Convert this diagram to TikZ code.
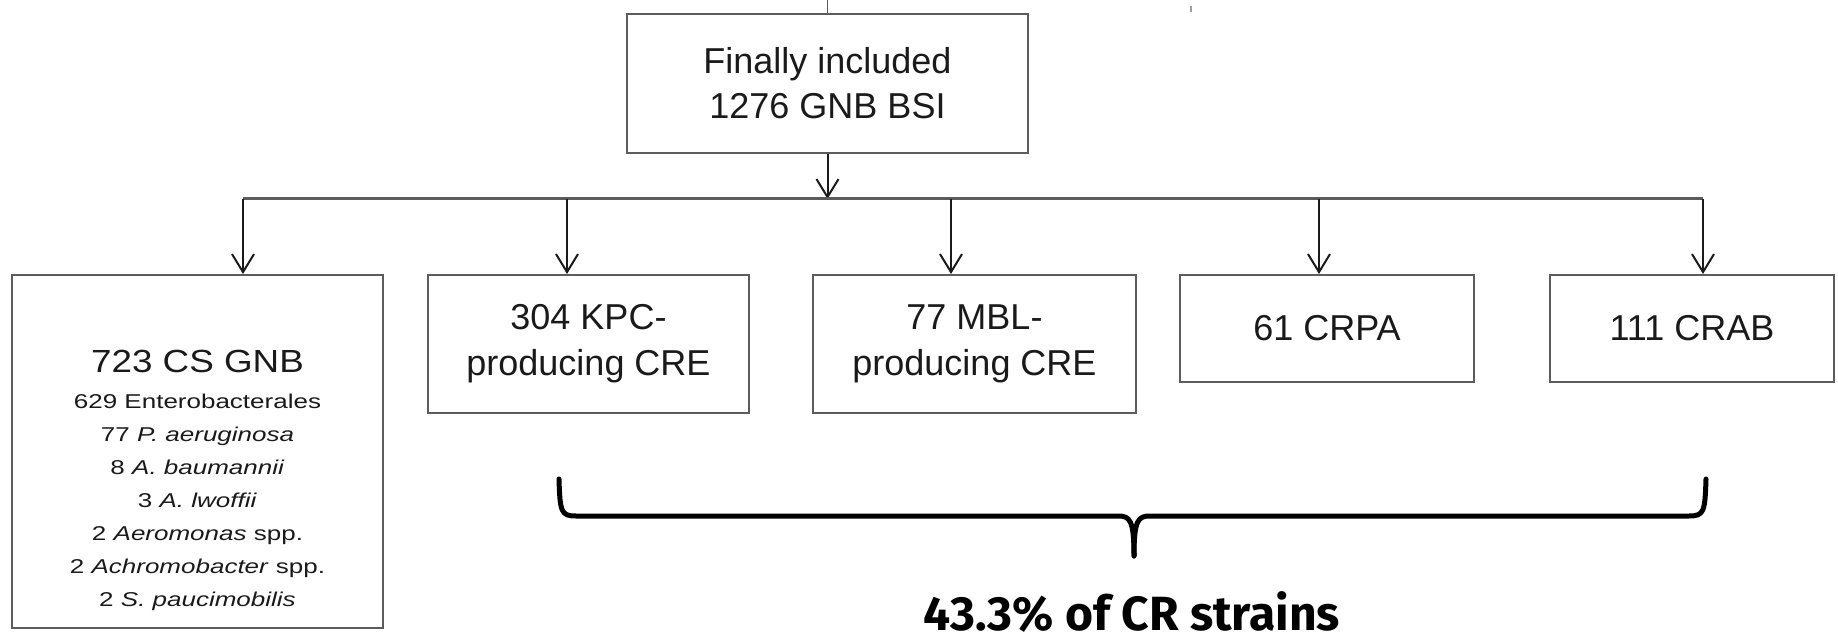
\documentclass[tikz,border=0pt]{standalone}
\usepackage{fontspec}
\setmainfont{Liberation Sans}
\newfontfamily\titlefont{Liberation Sans}[FakeStretch=1.15]
\newfontfamily\listfont{Liberation Sans}[FakeStretch=1.3]
\newfontfamily\bracefont{Fira Sans}
\usetikzlibrary{arrows.meta}
\definecolor{boxgray}{HTML}{5C5C5C}
\definecolor{ink}{HTML}{1A1A1A}
\begin{document}
\begin{tikzpicture}[x=0.5pt,y=-0.5pt,
  box/.style={draw=boxgray, line width=1pt, fill=white, inner sep=0pt, align=center, text=ink, font=\fontsize{18}{23}\selectfont},
  arr/.style={draw=ink, line width=1pt, -{Straight Barb[length=9pt,width=11pt]}},
  bus/.style={draw=boxgray, line width=1.5pt},
  bracepath/.style={draw=black, line width=2.5pt, line cap=round, line join=round},
  plain/.style={inner sep=0pt, text=ink, align=center}]
\useasboundingbox (0,0) rectangle (1838,642);
% boxes
\node[box, minimum width=200.5pt, minimum height=69.5pt, font=\fontsize{18}{22.5}\selectfont] (top) at (827.5,83.5) {Finally included\\1276 GNB BSI};
\node[box, minimum width=185.5pt, minimum height=176.5pt] (cs) at (197.5,451.5) {};
\node[box, minimum width=160.5pt, minimum height=69pt] (kpc) at (588.5,344) {304 KPC-\\producing CRE};
\node[box, minimum width=161.5pt, minimum height=69pt] (mbl) at (974.5,344) {77 MBL-\\producing CRE};
\node[box, minimum width=147pt, minimum height=53.5pt] (crpa) at (1327,328.5) {61 CRPA};
\node[box, minimum width=142pt, minimum height=53.5pt] (crab) at (1692,328.5) {111 CRAB};
% left box text
\node[plain, anchor=base, font=\titlefont\fontsize{16}{18}\selectfont] (cstitle) at (197.5,372) {723 CS GNB};
\node[plain, anchor=north, font=\listfont\fontsize{10}{16.5}\selectfont] (cslist) at (197.5,393.5)
  {629 Enterobacterales\\
   77 \textit{P. aeruginosa}\\
   8 \textit{A. baumannii}\\
   3 \textit{A. lwoffii}\\
   2 \textit{Aeromonas} spp.\\
   2 \textit{Achromobacter} spp.\\
   2 \textit{S. paucimobilis}};
% connectors
\coordinate (stub) at (827.5,0);
\draw[draw=boxgray, line width=0.8pt] (stub) -- (top.north);
\coordinate (speck) at (1191,6);
\draw[draw=boxgray!60, line width=0.8pt] (speck) -- ++(0,6);
\coordinate (hub) at (827.5,199);
\coordinate (b1) at (243,199);
\coordinate (b2) at (567,199);
\coordinate (b3) at (951,199);
\coordinate (b4) at (1319,199);
\coordinate (b5) at (1703,199);
\draw[arr] (top.south) -- (hub);
\draw[bus] (b1) -- (b5);
\draw[arr] (b1) -- (b1 |- cs.north);
\draw[arr] (b2) -- (b2 |- kpc.north);
\draw[arr] (b3) -- (b3 |- mbl.north);
\draw[arr] (b4) -- (b4 |- crpa.north);
\draw[arr] (b5) -- (b5 |- crab.north);
% brace
\draw[bracepath] (559,479) .. controls (560,512) and (561,516) .. (576,516) -- (1118,516)
   .. controls (1130,516) and (1134,520) .. (1134,556);
\draw[bracepath] (1706,479) .. controls (1705,512) and (1704,516) .. (1689,516) -- (1150,516)
   .. controls (1138,516) and (1134,520) .. (1134,556);
\node[plain, anchor=base, text=black, font=\bracefont\bfseries\fontsize{24}{28}\selectfont] (pct) at (1132,630) {43.3\% of CR strains};
\end{tikzpicture}
\end{document}
